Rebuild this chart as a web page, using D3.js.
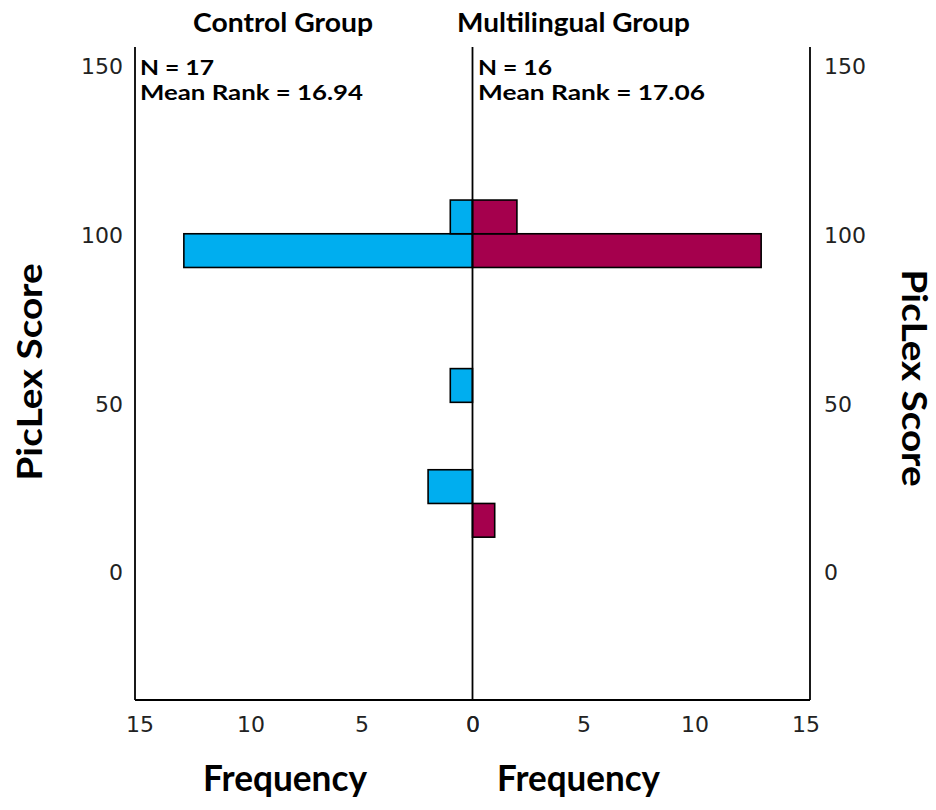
<!DOCTYPE html>
<html>
<head>
<meta charset="utf-8">
<script src="https://cdn.jsdelivr.net/npm/d3@7"></script>
<style>
  html, body { margin: 0; padding: 0; background: #fff; }
  svg { display: block; }
</style>
</head>
<body>
<svg id="chart" width="936" height="810"></svg>
<script>
// Histogram bins of PicLex score (lower edge of each bin, width 10)
const binLower = [10.5, 20.5, 30.5, 40.5, 50.5, 60.5, 70.5, 80.5, 90.5, 100.5];
const binWidth = 10;
const controlFreq = [0, 2, 0, 0, 1, 0, 0, 0, 13, 1];
const multiFreq   = [1, 0, 0, 0, 0, 0, 0, 0, 13, 2];

const groupNames = ["Control Group", "Multilingual Group"];
const groupN = [17, 16];
const meanRanks = ["16.94", "17.06"];
const yTicks = [0, 50, 100, 150];
const xTicks = [0, 5, 10, 15];

const colors = { control: "#00aeef", multi: "#a5004d" };

const svg = d3.select("#chart");

const plotLeft = 135, plotMid = 472.5, plotRight = 810, plotTop = 47, plotBottom = 700;

const y = d3.scaleLinear().domain([-37.8, 155.9]).range([plotBottom, plotTop]);
const xL = d3.scaleLinear().domain([15.2, 0]).range([plotLeft, plotMid]);
const xR = d3.scaleLinear().domain([0, 15.2]).range([plotMid, plotRight]);

const boldFont = "Lato, 'Open Sans', sans-serif";
const tickFont = "'DejaVu Sans', Verdana, sans-serif";

// Bars
const bins = binLower.map((lo, i) => ({ lo, hi: lo + binWidth, c: controlFreq[i], m: multiFreq[i] }));

svg.append("g").selectAll("rect")
  .data(bins.filter(d => d.c > 0))
  .join("rect")
  .attr("x", d => xL(d.c))
  .attr("width", d => xL(0) - xL(d.c))
  .attr("y", d => y(d.hi))
  .attr("height", d => y(d.lo) - y(d.hi))
  .attr("fill", colors.control)
  .attr("stroke", "#000")
  .attr("stroke-width", 1.6);

svg.append("g").selectAll("rect")
  .data(bins.filter(d => d.m > 0))
  .join("rect")
  .attr("x", xR(0))
  .attr("width", d => xR(d.m) - xR(0))
  .attr("y", d => y(d.hi))
  .attr("height", d => y(d.lo) - y(d.hi))
  .attr("fill", colors.multi)
  .attr("stroke", "#000")
  .attr("stroke-width", 1.6);

// Frame: left, right, bottom and centre lines
const frame = svg.append("g").attr("stroke", "#000").attr("stroke-width", 1.8);
frame.append("line").attr("x1", plotLeft).attr("x2", plotLeft).attr("y1", plotTop).attr("y2", plotBottom);
frame.append("line").attr("x1", plotRight).attr("x2", plotRight).attr("y1", plotTop).attr("y2", plotBottom);
frame.append("line").attr("x1", plotLeft).attr("x2", plotRight).attr("y1", plotBottom).attr("y2", plotBottom);
frame.append("line").attr("x1", plotMid).attr("x2", plotMid).attr("y1", plotTop).attr("y2", plotBottom);

// Y tick labels on both sides
const yAxisL = d3.axisLeft(y).tickValues(yTicks).tickSize(0).tickPadding(12);
const yAxisR = d3.axisRight(y).tickValues(yTicks).tickSize(0).tickPadding(14);
const gyl = svg.append("g").attr("transform", `translate(${plotLeft},0)`).call(yAxisL);
const gyr = svg.append("g").attr("transform", `translate(${plotRight},0)`).call(yAxisR);

// X tick labels for each half
const xAxisL = d3.axisBottom(xL).tickValues(xTicks).tickSize(0).tickPadding(16);
const xAxisR = d3.axisBottom(xR).tickValues(xTicks).tickSize(0).tickPadding(16);
const gxl = svg.append("g").attr("transform", `translate(0,${plotBottom})`).call(xAxisL);
const gxr = svg.append("g").attr("transform", `translate(0,${plotBottom})`).call(xAxisR);

[gyl, gyr, gxl, gxr].forEach(g => {
  g.select(".domain").remove();
  g.selectAll("text")
    .attr("font-family", tickFont)
    .attr("font-size", 22)
    .attr("fill", "#222");
});

// Bold text helper with a fixed rendered width
function boldText(x, yy, str, size, len, anchor) {
  return svg.append("text")
    .attr("x", x).attr("y", yy)
    .attr("font-family", boldFont)
    .attr("font-weight", "bold")
    .attr("font-size", size)
    .attr("text-anchor", anchor || "start")
    .attr("textLength", len)
    .attr("lengthAdjust", "spacingAndGlyphs")
    .attr("fill", "#000")
    .text(str);
}

// Group titles
boldText(193, 32, groupNames[0], 27, 180);
boldText(457, 32, groupNames[1], 27, 233);

// Group statistics
boldText(140, 75, `N = ${groupN[0]}`, 21, 74);
boldText(140, 100, `Mean Rank = ${meanRanks[0]}`, 21, 223);
boldText(478, 75, `N = ${groupN[1]}`, 21, 74);
boldText(478, 100, `Mean Rank = ${meanRanks[1]}`, 21, 227);

// Axis titles
boldText(203, 791, "Frequency", 36, 164);
boldText(497, 791, "Frequency", 36, 163);

svg.append("text")
  .attr("transform", "translate(42,372) rotate(-90)")
  .attr("text-anchor", "middle")
  .attr("font-family", boldFont).attr("font-weight", "bold").attr("font-size", 35)
  .attr("textLength", 217).attr("lengthAdjust", "spacingAndGlyphs")
  .text("PicLex Score");

svg.append("text")
  .attr("transform", "translate(902,378) rotate(90)")
  .attr("text-anchor", "middle")
  .attr("font-family", boldFont).attr("font-weight", "bold").attr("font-size", 35)
  .attr("textLength", 217).attr("lengthAdjust", "spacingAndGlyphs")
  .text("PicLex Score");
</script>
</body>
</html>
